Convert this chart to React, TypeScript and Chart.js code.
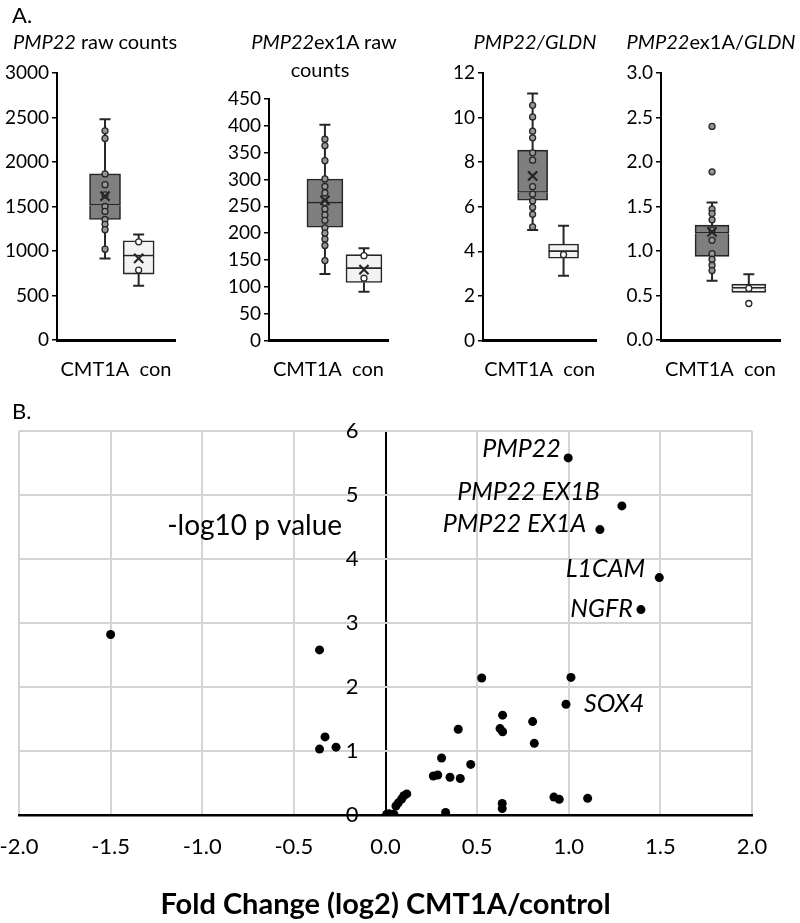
import React, { useEffect, useRef } from "react";
import { Chart, registerables } from "chart.js";

Chart.register(...registerables);

const FONT = "Lato";
Chart.defaults.font.family = FONT;
Chart.defaults.color = "#000";

// ---------- Panel A: box plots (groups: CMT1A, con) ----------
const GROUPS = ["CMT1A", "con"];

// PMP22 raw counts
const P1_MIN = [917, 610];
const P1_Q1 = [1354, 741];
const P1_MED = [1515, 943];
const P1_Q3 = [1866, 1115];
const P1_MAX = [2480, 1186];
const P1_MEAN = [1616, 917];
const P1_PTS_CMT = [2350, 2265, 1866, 1745, 1630, 1500, 1445, 1354, 1300, 1240, 1020];
const P1_PTS_CON = [1103, 786];
const P1_TICKS = [0, 3000, 500];

// PMP22ex1A raw counts
const P2_MIN = [124, 91];
const P2_Q1 = [211, 108];
const P2_MED = [256, 134];
const P2_Q3 = [301, 160];
const P2_MAX = [402, 172];
const P2_MEAN = [261, 132];
const P2_PTS_CMT = [375, 363, 335, 301, 287, 275, 257, 245, 234, 224, 210, 200, 189, 177, 149];
const P2_PTS_CON = [158, 116];
const P2_TICKS = [0, 450, 50];

// PMP22/GLDN
const P3_MIN = [4.96, 2.9];
const P3_Q1 = [6.29, 3.69];
const P3_MED = [6.64, 3.99];
const P3_Q3 = [8.54, 4.33];
const P3_MAX = [11.08, 5.15];
const P3_MEAN = [7.38, null];
const P3_PTS_CMT = [10.55, 10.03, 9.39, 9.09, 8.42, 8.09, 6.9, 6.57, 6.26, 5.97, 5.66, 5.1];
const P3_PTS_CON = [3.85];
const P3_TICKS = [0, 12, 2];

// PMP22ex1A/GLDN
const P4_MIN = [0.666, 0.535];
const P4_Q1 = [0.94, 0.535];
const P4_MED = [1.2, 0.58];
const P4_Q3 = [1.29, 0.628];
const P4_MAX = [1.545, 0.74];
const P4_MEAN = [1.215, null];
const P4_PTS_CMT = [2.4, 1.89, 1.47, 1.42, 1.35, 1.235, 1.12, 0.97, 0.905, 0.84, 0.78];
const P4_PTS_CON = [0.58, 0.41];
const P4_TICKS = [0, 3, 0.5];

// ---------- Panel B: volcano plot ----------
const FOLD_CHANGE = [
  0.997, 1.29, 1.17, 1.494, 1.394, 0.985, -1.5, -0.36, -0.33, -0.36, -0.27, 0.525, 1.012,
  0.397, 0.639, 0.625, 0.639, 0.803, 0.812, 0.306, 0.465, 0.261, 0.285, 0.352, 0.408,
  0.116, 0.1, 0.088, 0.07, 0.057, 0.006, 0.02, 0.046, 0.328, 0.637, 0.637, 0.919, 0.948, 1.103,
];
const NEG_LOG10_P = [
  5.58, 4.83, 4.46, 3.71, 3.21, 1.73, 2.82, 2.58, 1.22, 1.03, 1.06, 2.14, 2.15,
  1.34, 1.56, 1.35, 1.3, 1.46, 1.12, 0.89, 0.79, 0.61, 0.625, 0.59, 0.57,
  0.33, 0.3, 0.25, 0.19, 0.14, 0.01, 0.02, 0.01, 0.04, 0.18, 0.1, 0.28, 0.245, 0.26,
];
const X_TICKS = [-2, 2, 0.5];
const Y_TICKS = [0, 6, 1];
const GENE_LABELS = ["PMP22", "PMP22 EX1B", "PMP22 EX1A", "L1CAM", "NGFR", "SOX4"];
// label anchor positions (in data units) and alignment
const GENE_LABEL_X = [0.957, 1.17, 1.095, 1.416, 1.35, 1.083];
const GENE_LABEL_Y = [5.72, 5.05, 4.55, 3.85, 3.22, 1.73];
const GENE_LABEL_ALIGN = ["right", "right", "right", "right", "right", "left"];
const Y_TITLE = "-log10 p value";
const Y_TITLE_POS = [-0.237, 4.52];
const X_TITLE = "Fold Change (log2) CMT1A/control";

// ---------- styles ----------
const DARK = "#262626";
const FILL = ["#7f7f7f", "#f2f2f2"];
const PT_FILL = ["#979797", "#ffffff"];

type Panel = {
  min: (number | null)[];
  q1: number[];
  med: number[];
  q3: number[];
  max: number[];
  mean: (number | null)[];
  ptsCmt: number[];
  ptsCon: number[];
  ticks: number[];
  decimals: number;
  // layout
  left: number;
  width: number;
  padTop: number;
  padRight: number;
  yWidth: number;
  xHeight: number;
  boxX: number[];
  boxW: number;
};

const PANELS: Panel[] = [
  {
    min: P1_MIN, q1: P1_Q1, med: P1_MED, q3: P1_Q3, max: P1_MAX, mean: P1_MEAN,
    ptsCmt: P1_PTS_CMT, ptsCon: P1_PTS_CON, ticks: P1_TICKS, decimals: 0,
    left: 0, width: 200, padTop: 73, padRight: 25, yWidth: 57, xHeight: 60,
    boxX: [0.407, 0.692], boxW: 31,
  },
  {
    min: P2_MIN, q1: P2_Q1, med: P2_MED, q3: P2_Q3, max: P2_MAX, mean: P2_MEAN,
    ptsCmt: P2_PTS_CMT, ptsCon: P2_PTS_CON, ticks: P2_TICKS, decimals: 0,
    left: 200, width: 200, padTop: 99, padRight: 12, yWidth: 69, xHeight: 59.5,
    boxX: [0.47, 0.798], boxW: 36,
  },
  {
    min: P3_MIN, q1: P3_Q1, med: P3_MED, q3: P3_Q3, max: P3_MAX, mean: P3_MEAN,
    ptsCmt: P3_PTS_CMT, ptsCon: P3_PTS_CON, ticks: P3_TICKS, decimals: 0,
    left: 400, width: 205, padTop: 73, padRight: 3, yWidth: 83, xHeight: 59.5,
    boxX: [0.438, 0.711], boxW: 30,
  },
  {
    min: P4_MIN, q1: P4_Q1, med: P4_MED, q3: P4_Q3, max: P4_MAX, mean: P4_MEAN,
    ptsCmt: P4_PTS_CMT, ptsCon: P4_PTS_CON, ticks: P4_TICKS, decimals: 1,
    left: 605, width: 195, padTop: 73, padRight: 20, yWidth: 56, xHeight: 60,
    boxX: [0.429, 0.738], boxW: 34,
  },
];

function makeWhiskerPlugin(p: Panel) {
  return {
    id: "whiskers",
    beforeDatasetsDraw(chart: any) {
      const { ctx } = chart;
      const xs = chart.scales.x;
      const ys = chart.scales.y;
      ctx.save();
      ctx.strokeStyle = DARK;
      ctx.lineWidth = 2;
      const cap = 5.5;
      GROUPS.forEach((_, i) => {
        const cx = xs.getPixelForValue(p.boxX[i]);
        const seg = (from: number, to: number | null) => {
          if (to == null || from === to) return;
          const ya = ys.getPixelForValue(from);
          const yb = ys.getPixelForValue(to);
          ctx.beginPath();
          ctx.moveTo(cx, ya);
          ctx.lineTo(cx, yb);
          ctx.moveTo(cx - cap, yb);
          ctx.lineTo(cx + cap, yb);
          ctx.stroke();
        };
        seg(p.q3[i], p.max[i]);
        seg(p.q1[i], p.min[i]);
      });
      ctx.restore();
    },
  };
}

function boxConfig(p: Panel): any {
  const x = p.boxX;
  const lower = p.q1.map((q, i) => ({ x: x[i], y: [q, p.med[i]] }));
  const upper = p.med.map((m, i) => ({ x: x[i], y: [m, p.q3[i]] }));
  const ptsCmt = p.ptsCmt.map((v) => ({ x: x[0], y: v }));
  const ptsCon = p.ptsCon.map((v) => ({ x: x[1], y: v }));
  const means = p.mean
    .map((v, i) => (v == null ? null : { x: x[i], y: v }))
    .filter((d) => d !== null);
  const [yMin, yMax, step] = p.ticks;
  return {
    type: "bar",
    data: {
      datasets: [
        {
          type: "scatter", data: means, pointStyle: "crossRot", pointRadius: 6.5,
          borderColor: DARK, borderWidth: 2.2, order: 0,
        },
        {
          type: "scatter", data: ptsCmt, pointRadius: 3, backgroundColor: PT_FILL[0],
          borderColor: DARK, borderWidth: 1.3, order: 1,
        },
        {
          type: "scatter", data: ptsCon, pointRadius: 3, backgroundColor: PT_FILL[1],
          borderColor: DARK, borderWidth: 1.3, order: 1,
        },
        {
          type: "bar", data: upper, backgroundColor: FILL, borderColor: DARK,
          borderWidth: { top: 1.6, bottom: 1.6, left: 1.6, right: 1.6 },
          borderSkipped: false, barThickness: p.boxW, grouped: false, order: 2,
        },
        {
          type: "bar", data: lower, backgroundColor: FILL, borderColor: DARK,
          borderWidth: { top: 0, bottom: 1.6, left: 1.6, right: 1.6 },
          borderSkipped: false, barThickness: p.boxW, grouped: false, order: 2,
        },
      ],
    },
    options: {
      responsive: false,
      animation: false,
      events: [],
      layout: { padding: { left: 0, top: p.padTop, right: p.padRight, bottom: 0 } },
      plugins: { legend: { display: false }, tooltip: { enabled: false } },
      scales: {
        x: {
          type: "linear", min: 0, max: 1, offset: false,
          ticks: { display: false },
          grid: { display: false, offset: false },
          border: { display: true, color: "#000", width: 3 },
          title: {
            display: true, text: GROUPS.join("  "), color: "#000",
            font: { size: 20, family: FONT }, padding: { top: 0, bottom: 18 },
          },
          afterFit: (s: any) => { s.height = p.xHeight; },
        },
        y: {
          type: "linear", min: yMin, max: yMax,
          ticks: {
            stepSize: step, padding: 3, color: "#000", font: { size: 19, family: FONT },
            callback: (v: any) => Number(v).toFixed(p.decimals),
          },
          grid: {
            display: true, drawOnChartArea: false, drawTicks: true, tickLength: 5,
            color: "#000", lineWidth: 1.5,
          },
          border: { display: true, color: "#000", width: 2 },
          afterFit: (s: any) => { s.width = p.yWidth; },
        },
      },
    },
    plugins: [makeWhiskerPlugin(p)],
  };
}

const labelPlugin = {
  id: "geneLabels",
  afterDatasetsDraw(chart: any) {
    const { ctx } = chart;
    const xs = chart.scales.x;
    const ys = chart.scales.y;
    ctx.save();
    ctx.fillStyle = "#000";
    ctx.textBaseline = "middle";
    ctx.font = `italic 25px ${FONT}`;
    GENE_LABELS.forEach((t, i) => {
      ctx.textAlign = GENE_LABEL_ALIGN[i];
      ctx.fillText(t, xs.getPixelForValue(GENE_LABEL_X[i]), ys.getPixelForValue(GENE_LABEL_Y[i]));
    });
    ctx.font = `28px ${FONT}`;
    ctx.textAlign = "right";
    ctx.fillText(Y_TITLE, xs.getPixelForValue(Y_TITLE_POS[0]), ys.getPixelForValue(Y_TITLE_POS[1]));
    ctx.restore();
  },
};

function volcanoConfig(): any {
  return {
    type: "scatter",
    data: {
      datasets: [
        {
          data: FOLD_CHANGE.map((x, i) => ({ x, y: NEG_LOG10_P[i] })),
          pointRadius: 4.5, backgroundColor: "#000", borderColor: "#000", borderWidth: 0,
        },
      ],
    },
    options: {
      responsive: false,
      animation: false,
      events: [],
      layout: { padding: { left: 19, right: 48, top: 31, bottom: 0 } },
      plugins: { legend: { display: false }, tooltip: { enabled: false } },
      scales: {
        x: {
          type: "linear", min: X_TICKS[0], max: X_TICKS[1],
          ticks: {
            stepSize: X_TICKS[2], padding: 19, color: "#000", font: { size: 22, family: FONT },
            maxRotation: 0, autoSkip: false,
            callback: (v: any) => Number(v).toFixed(1),
          },
          grid: {
            color: (c: any) => (c.tick && c.tick.value === 0 ? "#000" : "#d4d4d4"),
            lineWidth: 2, drawTicks: false,
          },
          border: { display: true, color: "#000", width: 2.5 },
          title: {
            display: true, text: X_TITLE, color: "#000",
            font: { size: 29, weight: "bold", family: FONT }, padding: { top: 0, bottom: 1 },
          },
          afterFit: (s: any) => {
            s.height = 108;
            s.paddingLeft = 0;
            s.paddingRight = 0;
          },
        },
        y: {
          type: "linear", min: Y_TICKS[0], max: Y_TICKS[1],
          position: { x: -0.147 },
          ticks: { stepSize: Y_TICKS[2], padding: 0, color: "#000", font: { size: 22, family: FONT } },
          grid: { color: "#d4d4d4", lineWidth: 2, drawTicks: false },
          border: { display: false },
        },
      },
    },
    plugins: [labelPlugin],
  };
}

function ChartCanvas(props: { left: number; top: number; width: number; height: number; build: () => any }) {
  const ref = useRef<HTMLCanvasElement>(null);
  useEffect(() => {
    const chart = new Chart(ref.current as HTMLCanvasElement, props.build());
    return () => chart.destroy();
  }, []);
  return (
    <canvas
      ref={ref}
      width={props.width}
      height={props.height}
      style={{ position: "absolute", left: props.left, top: props.top, width: props.width, height: props.height }}
    />
  );
}

function Txt(props: { x: number; y: number; size: number; center?: boolean; children: any }) {
  return (
    <div
      style={{
        position: "absolute",
        left: props.x,
        top: props.y,
        transform: props.center ? "translate(-50%, -50%)" : "translateY(-50%)",
        fontFamily: FONT,
        fontSize: props.size,
        lineHeight: 1.2,
        whiteSpace: "nowrap",
        color: "#000",
      }}
    >
      {props.children}
    </div>
  );
}

export default function App() {
  return (
    <div style={{ position: "absolute", left: 0, top: 0, width: 800, height: 923, background: "#fff", overflow: "hidden" }}>
      {PANELS.map((p, i) => (
        <ChartCanvas key={i} left={p.left} top={0} width={p.width} height={400} build={() => boxConfig(p)} />
      ))}
      <ChartCanvas left={0} top={400} width={800} height={523} build={volcanoConfig} />
      <Txt x={12} y={15} size={22}>A.</Txt>
      <Txt x={95} y={41} size={20} center><i>PMP22</i> raw counts</Txt>
      <Txt x={324} y={41} size={20} center><i>PMP22</i>ex1A raw</Txt>
      <Txt x={320} y={69} size={20} center>counts</Txt>
      <Txt x={535} y={41} size={20} center><i>PMP22/GLDN</i></Txt>
      <Txt x={711} y={41} size={20} center><i>PMP22</i>ex1A/<i>GLDN</i></Txt>
      <Txt x={12} y={411} size={22}>B.</Txt>
    </div>
  );
}
